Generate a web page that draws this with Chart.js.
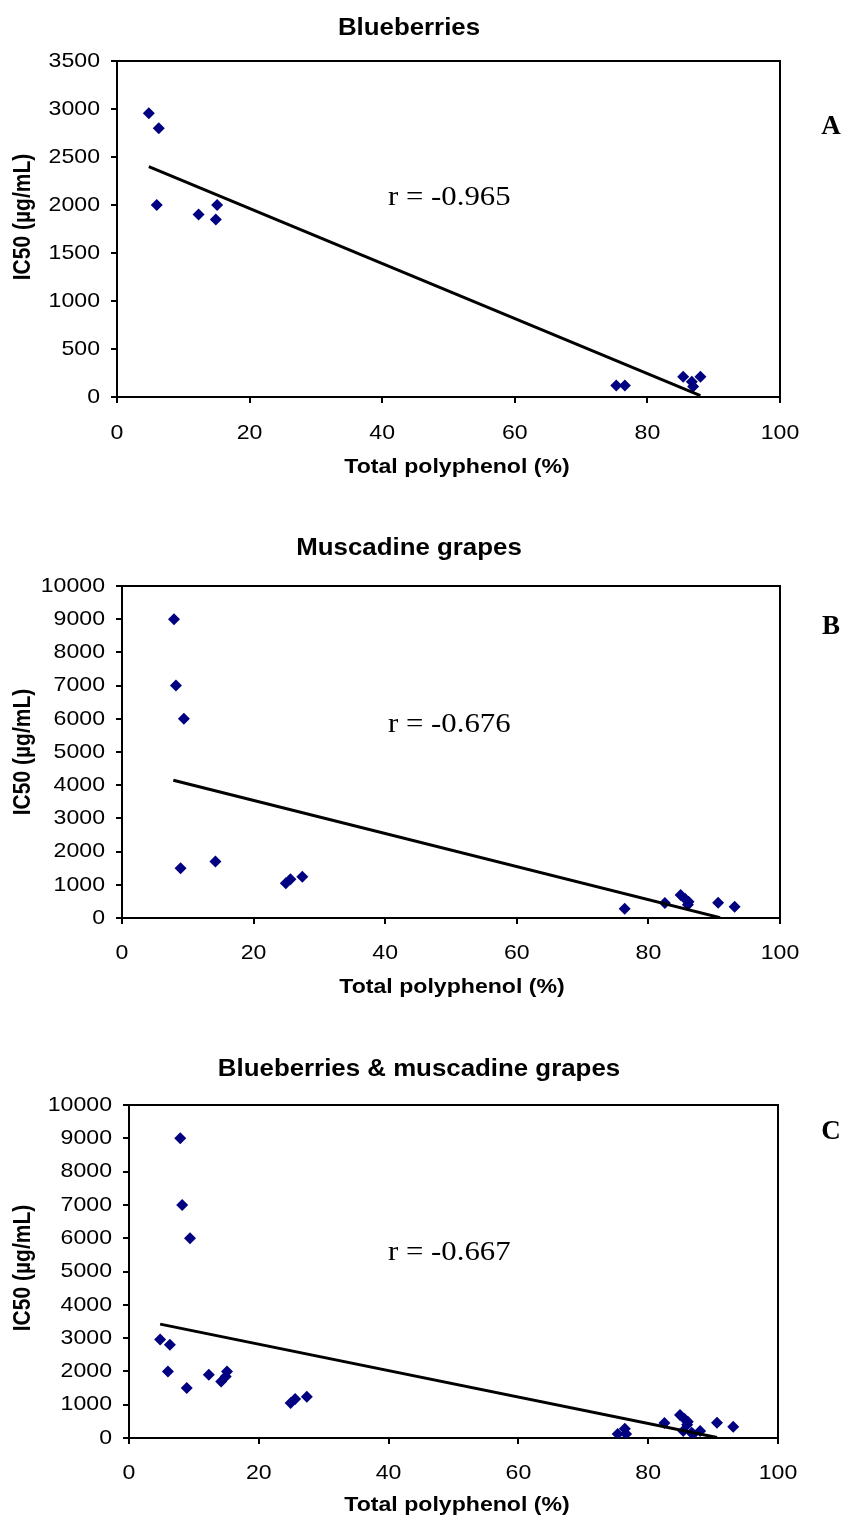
<!DOCTYPE html>
<html><head><meta charset="utf-8">
<script src="https://cdn.jsdelivr.net/npm/chart.js@4/dist/chart.umd.min.js"></script>
<style>
html,body{margin:0;padding:0;background:#fff;}
#wrap{position:relative;width:846px;height:1522px;overflow:hidden;}
canvas{position:absolute;left:0;}
</style></head>
<body><div id="wrap">
<canvas id="cA" width="846" height="500" style="top:0px"></canvas>
<canvas id="cB" width="846" height="500" style="top:500px"></canvas>
<canvas id="cC" width="846" height="522" style="top:1000px"></canvas>
</div>
<script>
// ---- data ----
const blueX = [4.8, 6.3, 6.0, 12.3, 14.9, 15.1, 75.3, 76.6, 85.4, 88.0, 86.7, 86.9];
const blueY = [2955, 2800, 2000, 1900, 1850, 2000, 120, 120, 210, 210, 160, 110];
const muscX = [7.9, 8.2, 9.4, 8.9, 14.2, 24.9, 25.6, 27.4, 76.4, 82.5, 84.9, 85.6, 86.1, 86.0, 90.6, 93.1];
const muscY = [9000, 7000, 6000, 1500, 1700, 1050, 1170, 1240, 280, 450, 690, 570, 490, 400, 460, 340];
const trendA_X = [4.8, 88.0];
const trendA_Y = [2400, 15];
const trendB_X = [7.8, 90.9];
const trendB_Y = [4150, 10];
const trendC_X = [4.8, 90.6];
const trendC_Y = [3420, 15];
const xTicks = [0, 20, 40, 60, 80, 100];
const yTicksA = [0, 500, 1000, 1500, 2000, 2500, 3000, 3500];
const yTicksBC = [0, 1000, 2000, 3000, 4000, 5000, 6000, 7000, 8000, 9000, 10000];
const titles = ["Blueberries", "Muscadine grapes", "Blueberries & muscadine grapes"];
const rLabels = ["r = -0.965", "r = -0.676", "r = -0.667"];
const panelLetters = ["A", "B", "C"];
const xTitle = "Total polyphenol (%)";
const yTitle = "IC50 (\u00b5g/mL)";

function pts(xs, ys){ return xs.map((x,i)=>({x:x, y:ys[i]})); }

function stext(ctx, txt, x, y, font, align, baseline, sx){
  ctx.save();
  ctx.translate(x, y);
  ctx.scale(sx || 1, 1);
  ctx.font = font;
  ctx.fillStyle = '#000';
  ctx.textAlign = align;
  ctx.textBaseline = baseline;
  ctx.fillText(txt, 0, 0);
  ctx.restore();
}

const SX = 1.1;
const TICKFONT = '21px "Liberation Sans", Arial, sans-serif';
const AXFONT = 'bold 21px "Liberation Sans", Arial, sans-serif';
const TITLEFONT = 'bold 23.5px "Liberation Sans", Arial, sans-serif';
const SERIF = '28px "Liberation Serif", "Times New Roman", serif';
const SERIFB = 'bold 27px "Liberation Serif", "Times New Roman", serif';

function makeChart(id, H, area, yMax, yStep, yTickVals, scatter, trend, info){
  const textPlugin = {
    id: 'texts',
    afterDraw(chart){
      const ctx = chart.ctx;
      const ca = chart.chartArea;
      const xs = chart.scales.x, ys = chart.scales.y;
      ctx.save();
      ctx.strokeStyle = '#000';
      ctx.lineWidth = 2;
      ctx.beginPath();
      ctx.moveTo(ca.left, ca.top); ctx.lineTo(ca.right, ca.top); ctx.lineTo(ca.right, ca.bottom);
      ctx.stroke();
      ctx.restore();
      yTickVals.forEach(v=>{
        stext(ctx, String(v), ca.left - 17, ys.getPixelForValue(v), TICKFONT, 'right', 'middle', SX);
      });
      xTicks.forEach(v=>{
        stext(ctx, String(v), xs.getPixelForValue(v), ca.bottom + info.xLabDy, TICKFONT, 'center', 'middle', SX);
      });
      stext(ctx, xTitle, info.xTitlePos[0], info.xTitlePos[1], AXFONT, 'center', 'middle', SX);
      ctx.save();
      ctx.translate(info.yTitlePos[0], info.yTitlePos[1]);
      ctx.rotate(-Math.PI/2);
      ctx.scale(1, SX);
      ctx.font = AXFONT; ctx.fillStyle = '#000'; ctx.textAlign='center'; ctx.textBaseline='middle';
      ctx.fillText(yTitle, 0, 0);
      ctx.restore();
      stext(ctx, info.title, info.titlePos[0], info.titlePos[1], TITLEFONT, 'center', 'middle', SX);
      stext(ctx, info.r, info.rPos[0], info.rPos[1], SERIF, 'left', 'alphabetic', SX);
      stext(ctx, info.letter, info.letterPos[0], info.letterPos[1], SERIFB, 'center', 'middle', 1);
    }
  };
  return new Chart(document.getElementById(id), {
    type: 'scatter',
    data: {
      datasets: [
        { data: scatter, pointStyle: 'rectRot', pointRadius: 6, pointHoverRadius: 6,
          backgroundColor: '#000080', borderColor: '#000080', borderWidth: 0, order: 2 },
        { data: trend, type: 'line', showLine: true, borderColor: '#000', borderWidth: 3,
          pointRadius: 0, fill: false, order: 1 }
      ]
    },
    options: {
      responsive: false, animation: false, devicePixelRatio: 1,
      layout: { padding: { left: 0, right: 846 - area.right, top: area.top, bottom: 0 } },
      plugins: { legend: { display: false }, title: { display: false }, tooltip: { enabled: false } },
      events: [],
      scales: {
        x: { type: 'linear', min: 0, max: 100,
             ticks: { display: false, stepSize: 20 },
             grid: { display: true, drawOnChartArea: false, drawTicks: true, tickLength: 6, color: '#000', lineWidth: 2 },
             border: { display: true, color: '#000', width: 2 },
             afterFit(s){ s.height = H - area.bottom; } },
        y: { type: 'linear', min: 0, max: yMax,
             ticks: { display: false, stepSize: yStep },
             grid: { display: true, drawOnChartArea: false, drawTicks: true, tickLength: 6, color: '#000', lineWidth: 2 },
             border: { display: true, color: '#000', width: 2 },
             afterFit(s){ s.width = area.left; } }
      }
    },
    plugins: [textPlugin]
  });
}

makeChart('cA', 500, {left:117, right:780, top:61, bottom:397}, 3500, 500, yTicksA,
  pts(blueX, blueY), pts(trendA_X, trendA_Y),
  { xLabDy: 36, xTitlePos:[457, 467], yTitlePos:[24, 217], title: titles[0], titlePos:[409, 29],
    r: rLabels[0], rPos:[388, 205], letter: panelLetters[0], letterPos:[831, 127] });

makeChart('cB', 500, {left:122, right:780, top:86, bottom:418}, 10000, 1000, yTicksBC,
  pts(muscX, muscY), pts(trendB_X, trendB_Y),
  { xLabDy: 35, xTitlePos:[452, 487], yTitlePos:[24, 252], title: titles[1], titlePos:[409, 49],
    r: rLabels[1], rPos:[388, 232], letter: panelLetters[1], letterPos:[831, 127] });

makeChart('cC', 522, {left:129, right:778, top:105, bottom:438}, 10000, 1000, yTicksBC,
  pts(blueX.concat(muscX), blueY.concat(muscY)), pts(trendC_X, trendC_Y),
  { xLabDy: 35, xTitlePos:[457, 505], yTitlePos:[24, 268], title: titles[2], titlePos:[419, 70],
    r: rLabels[2], rPos:[388, 260], letter: panelLetters[2], letterPos:[831, 132] });
</script>
</body></html>
